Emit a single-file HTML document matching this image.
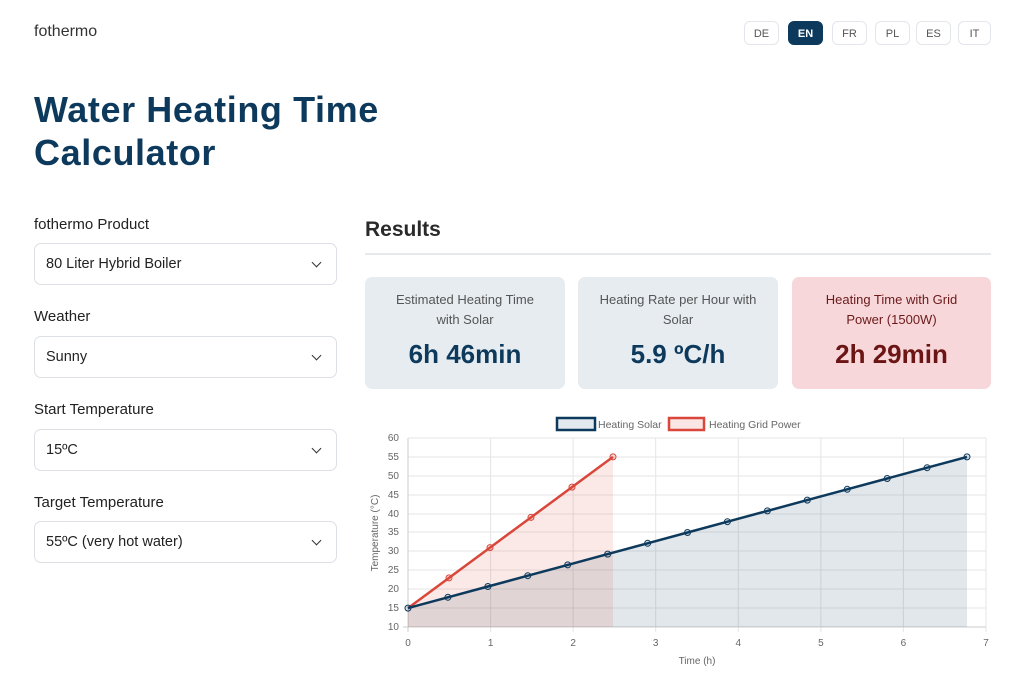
<!DOCTYPE html>
<html><head><meta charset="utf-8"><style>
body{margin:0;width:1020px;height:694px;background:#fff;font-family:"Liberation Sans",sans-serif;position:relative;overflow:hidden;color:#222}
.a{position:absolute}
.lang{position:absolute;top:21px;width:35px;height:24px;border:1px solid #e3e6ea;border-radius:6px;font-size:11px;color:#555;text-align:center;line-height:24px;box-sizing:border-box}
.lbl{position:absolute;left:34px;font-size:15px;color:#222}
.sel{position:absolute;left:34px;width:303px;height:42px;border:1px solid #dcdfe3;border-radius:7px;box-sizing:border-box;font-size:14.5px;padding-left:11px;line-height:40px;color:#222}
.sel:after{content:"";position:absolute;right:16px;top:15px;width:6px;height:6px;border-right:1.5px solid #333;border-bottom:1.5px solid #333;transform:rotate(45deg)}
.card{position:absolute;top:277px;height:112px;border-radius:7px;text-align:center;box-sizing:border-box;padding-top:13px}
.card .t{font-size:13px;line-height:20px;color:#555;padding:0 18px}
.card .v{font-size:26px;font-weight:bold;color:#0d3a5c;margin-top:9px}
</style></head><body>
<div class="a" style="left:34px;top:23px;font-size:16px;color:#333">fothermo</div>
<div class="lang" style="left:744px">DE</div>
<div class="lang" style="left:788px;background:#0d3a5c;color:#fff;border-color:#0d3a5c;font-weight:bold">EN</div>
<div class="lang" style="left:832px">FR</div>
<div class="lang" style="left:875px">PL</div>
<div class="lang" style="left:916px">ES</div>
<div class="lang" style="left:958px;width:33px">IT</div>
<div class="a" style="left:34px;top:88px;font-size:36px;font-weight:bold;line-height:43px;color:#0d3a5c;letter-spacing:0.6px">Water Heating Time<br>Calculator</div>

<div class="lbl" style="top:216px">fothermo Product</div>
<div class="sel" style="top:243px">80 Liter Hybrid Boiler</div>
<div class="lbl" style="top:308px">Weather</div>
<div class="sel" style="top:336px">Sunny</div>
<div class="lbl" style="top:401px">Start Temperature</div>
<div class="sel" style="top:429px">15ºC</div>
<div class="lbl" style="top:494px">Target Temperature</div>
<div class="sel" style="top:521px">55ºC (very hot water)</div>

<div class="a" style="left:365px;top:218px;font-size:21px;font-weight:bold;color:#2a2a2a">Results</div>
<div class="a" style="left:365px;top:253px;width:626px;height:2px;background:#e6eaee"></div>
<div class="card" style="left:365px;width:200px;background:#e6ecf0"><div class="t">Estimated Heating Time with Solar</div><div class="v">6h 46min</div></div>
<div class="card" style="left:578px;width:200px;background:#e6ecf0"><div class="t">Heating Rate per Hour with Solar</div><div class="v">5.9 ºC/h</div></div>
<div class="card" style="left:792px;width:199px;background:#f8d7da"><div class="t" style="color:#6b1a1a">Heating Time with Grid Power (1500W)</div><div class="v" style="color:#6b1515">2h 29min</div></div>

<svg class="a" style="left:0;top:0" width="1020" height="694" font-family="Liberation Sans, sans-serif">
<g stroke="#e5e5e5" stroke-width="1">
<line x1="408" y1="438" x2="986" y2="438"/><line x1="408" y1="457" x2="986" y2="457"/><line x1="408" y1="476" x2="986" y2="476"/><line x1="408" y1="495" x2="986" y2="495"/><line x1="408" y1="514" x2="986" y2="514"/><line x1="408" y1="532" x2="986" y2="532"/><line x1="408" y1="551" x2="986" y2="551"/><line x1="408" y1="570" x2="986" y2="570"/><line x1="408" y1="589" x2="986" y2="589"/><line x1="408" y1="608" x2="986" y2="608"/>
<line x1="490.6" y1="438" x2="490.6" y2="632"/><line x1="573.1" y1="438" x2="573.1" y2="632"/><line x1="655.7" y1="438" x2="655.7" y2="632"/><line x1="738.3" y1="438" x2="738.3" y2="632"/><line x1="820.9" y1="438" x2="820.9" y2="632"/><line x1="903.4" y1="438" x2="903.4" y2="632"/><line x1="986" y1="438" x2="986" y2="632"/>
</g>
<line x1="403" y1="627" x2="986" y2="627" stroke="#ccc"/><line x1="408" y1="438" x2="408" y2="632" stroke="#ccc"/>
<g font-size="10" fill="#666" text-anchor="end">
<text x="399" y="441">60</text><text x="399" y="460">55</text><text x="399" y="479">50</text><text x="399" y="498">45</text><text x="399" y="517">40</text><text x="399" y="535">35</text><text x="399" y="554">30</text><text x="399" y="573">25</text><text x="399" y="592">20</text><text x="399" y="611">15</text><text x="399" y="630">10</text>
</g>
<g font-size="10" fill="#666" text-anchor="middle">
<text x="408" y="646">0</text><text x="490.6" y="646">1</text><text x="573.1" y="646">2</text><text x="655.7" y="646">3</text><text x="738.3" y="646">4</text><text x="820.9" y="646">5</text><text x="903.4" y="646">6</text><text x="986" y="646">7</text>
<text x="697" y="664">Time (h)</text>
<text transform="translate(378,533) rotate(-90)">Temperature (°C)</text>
</g>
<polygon fill="rgba(13,58,92,0.12)" points="408,627 408,608.1 447.9,597.3 487.9,586.5 527.8,575.7 567.7,564.9 607.7,554.1 647.6,543.3 687.5,532.5 727.4,521.7 767.4,510.9 807.3,500.1 847.2,489.3 887.2,478.5 927.1,467.7 967,456.9 967,627"/>
<polygon fill="rgba(220,76,60,0.12)" points="408,627 408,608.1 449,577.9 490,547.6 531,517.4 572,487.1 613,456.9 613,627"/>
<polyline fill="none" stroke="#d9473a" stroke-width="2.5" points="408,608.1 449,577.9 490,547.6 531,517.4 572,487.1 613,456.9"/>
<g fill="rgba(220,76,60,0.2)" stroke="#d9473a" stroke-width="1">
<circle cx="449" cy="577.9" r="3"/><circle cx="490" cy="547.6" r="3"/><circle cx="531" cy="517.4" r="3"/><circle cx="572" cy="487.1" r="3"/><circle cx="613" cy="456.9" r="3"/></g>
<polyline fill="none" stroke="#0d3a5c" stroke-width="2.5" points="408,608.1 447.9,597.3 487.9,586.5 527.8,575.7 567.7,564.9 607.7,554.1 647.6,543.3 687.5,532.5 727.4,521.7 767.4,510.9 807.3,500.1 847.2,489.3 887.2,478.5 927.1,467.7 967,456.9"/>
<g fill="rgba(13,58,92,0.15)" stroke="#0d3a5c" stroke-width="1">
<circle cx="408" cy="608.1" r="3"/><circle cx="447.9" cy="597.3" r="3"/><circle cx="487.9" cy="586.5" r="3"/><circle cx="527.8" cy="575.7" r="3"/><circle cx="567.7" cy="564.9" r="3"/><circle cx="607.7" cy="554.1" r="3"/><circle cx="647.6" cy="543.3" r="3"/><circle cx="687.5" cy="532.5" r="3"/><circle cx="727.4" cy="521.7" r="3"/><circle cx="767.4" cy="510.9" r="3"/><circle cx="807.3" cy="500.1" r="3"/><circle cx="847.2" cy="489.3" r="3"/><circle cx="887.2" cy="478.5" r="3"/><circle cx="927.1" cy="467.7" r="3"/><circle cx="967" cy="456.9" r="3"/></g>
<rect x="557" y="418" width="38" height="12" fill="#e3e9ee" stroke="#0d3a5c" stroke-width="2.5"/>
<text x="598" y="428" font-size="10.5" fill="#666">Heating Solar</text>
<rect x="669" y="418" width="35" height="12" fill="#fbe6e6" stroke="#d9473a" stroke-width="2.5"/>
<text x="709" y="428" font-size="10.5" fill="#666">Heating Grid Power</text>
</svg>
</body></html>
